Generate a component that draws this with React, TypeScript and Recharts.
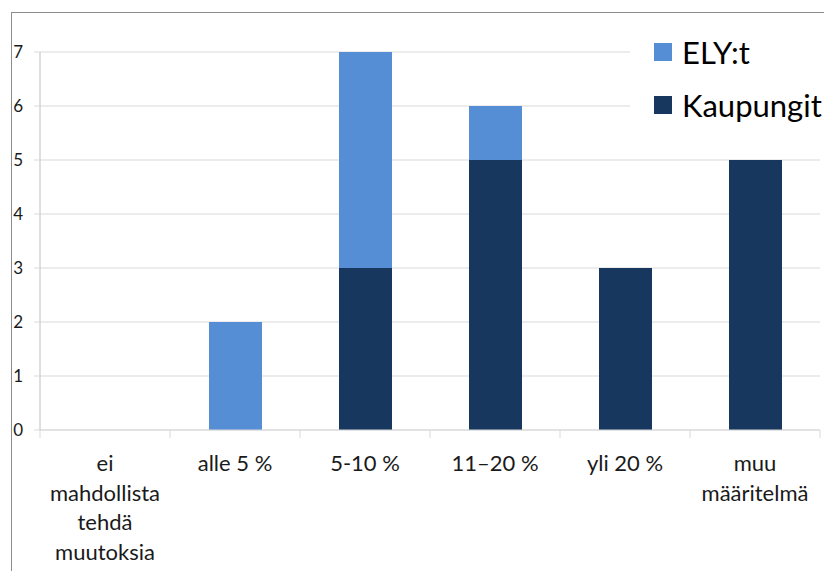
import { BarChart, Bar, XAxis, YAxis, CartesianGrid } from "recharts";

// Vastaukset kategorioittain; "\n" erottaa akselin tekstirivit
const categories = [
  "ei\nmahdollista\ntehdä\nmuutoksia",
  "alle 5 %",
  "5-10 %",
  "11–20 %",
  "yli 20 %",
  "muu\nmääritelmä",
];
const kaupungit = [0, 0, 3, 5, 3, 5];
const elyt = [0, 2, 4, 1, 0, 0];
const yTicks = [0, 1, 2, 3, 4, 5, 6, 7];

const ELY_COLOR = "#558ED5";
const KAUPUNGIT_COLOR = "#17375E";
const FONT = "Lato, 'Open Sans', sans-serif";

const data = categories.map((name, i) => ({
  name,
  kaupungit: kaupungit[i],
  elyt: elyt[i],
}));

const legendItems = [
  { label: "ELY:t", color: ELY_COLOR },
  { label: "Kaupungit", color: KAUPUNGIT_COLOR },
];

// Monirivinen kategoriateksti + jakoviivat kategorioiden rajoilla
const CategoryTick = (props: any) => {
  const { x, y, payload, index, width, visibleTicksCount } = props;
  const band = width / visibleTicksCount;
  const lines = String(payload.value).split("\n");
  const isLast = index === visibleTicksCount - 1;
  return (
    <g>
      <line x1={x - band / 2} x2={x - band / 2} y1={y} y2={y + 8} stroke="#D9D9D9" />
      {isLast && (
        <line x1={x + band / 2} x2={x + band / 2} y1={y} y2={y + 8} stroke="#D9D9D9" />
      )}
      <text textAnchor="middle" fontFamily={FONT} fontSize={22} fill="#1A1A1A">
        {lines.map((line, i) => (
          <tspan key={i} x={x} y={y + 41 + i * 29.5}>
            {line}
          </tspan>
        ))}
      </text>
    </g>
  );
};

export default function App() {
  return (
    <div style={{ position: "absolute", left: 0, top: 0, width: 824, height: 571, background: "#fff" }}>
      <div
        style={{
          position: "absolute",
          left: 11,
          top: 12,
          right: 0,
          bottom: 0,
          borderTop: "1px solid #8C8C8C",
          borderLeft: "1px solid #8C8C8C",
        }}
      />
      <div style={{ position: "absolute", left: 0, top: 0 }}>
        <BarChart
          width={824}
          height={571}
          data={data}
          margin={{ top: 52, right: 4, bottom: 0, left: 0 }}
        >
          <CartesianGrid vertical={false} stroke="#D9D9D9" />
          <XAxis
            dataKey="name"
            height={141}
            interval={0}
            tickLine={false}
            tickSize={0}
            tickMargin={0}
            axisLine={{ stroke: "#D9D9D9" }}
            tick={<CategoryTick />}
          />
          <YAxis
            width={40}
            domain={[0, 7]}
            ticks={yTicks}
            interval={0}
            tickSize={6}
            tickMargin={11}
            tickLine={{ stroke: "#D9D9D9" }}
            axisLine={{ stroke: "#BFBFBF" }}
            tick={{ fontFamily: FONT, fontSize: 17, fill: "#1A1A1A" }}
          />
          <Bar dataKey="kaupungit" stackId="a" fill={KAUPUNGIT_COLOR} barSize={53} isAnimationActive={false} />
          <Bar dataKey="elyt" stackId="a" fill={ELY_COLOR} barSize={53} isAnimationActive={false} />
        </BarChart>
      </div>
      <div
        style={{
          position: "absolute",
          left: 630,
          top: 34,
          width: 194,
          height: 96,
          background: "#fff",
          fontFamily: FONT,
          fontSize: 31,
          color: "#000",
        }}
      >
        {legendItems.map((item, i) => (
          <div
            key={item.label}
            style={{
              position: "absolute",
              left: 24,
              top: i * 53,
              height: 36,
              display: "flex",
              alignItems: "center",
              whiteSpace: "nowrap",
            }}
          >
            <span style={{ display: "inline-block", width: 18, height: 18, background: item.color, marginRight: 10 }} />
            <span>{item.label}</span>
          </div>
        ))}
      </div>
    </div>
  );
}
